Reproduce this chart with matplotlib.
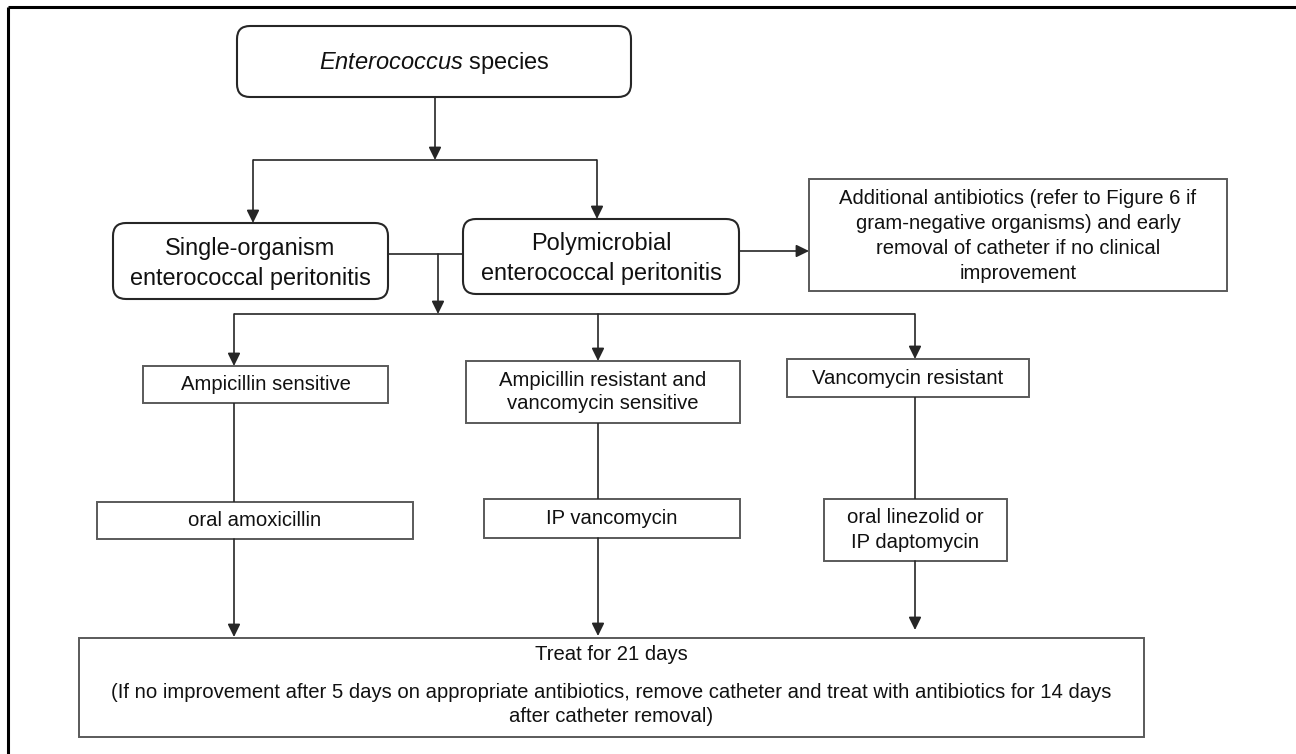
import matplotlib
matplotlib.use("Agg")
import matplotlib.pyplot as plt
from matplotlib.patches import FancyBboxPatch, Rectangle

plt.rcParams['font.family'] = ['Liberation Sans', 'DejaVu Sans']
plt.rcParams['mathtext.fontset'] = 'custom'
plt.rcParams['mathtext.rm'] = 'Liberation Sans'
plt.rcParams['mathtext.it'] = 'Liberation Sans:italic'

# labels of the flowchart nodes
top_label = r"$\mathit{Enterococcus}$ species"
type_labels = ["Single-organism\nenterococcal peritonitis",
               "Polymicrobial\nenterococcal peritonitis"]
extra_label = ("Additional antibiotics (refer to Figure 6 if\n"
               "gram-negative organisms) and early\n"
               "removal of catheter if no clinical\n"
               "improvement")
sensitivity_labels = ["Ampicillin sensitive",
                      "Ampicillin resistant and\nvancomycin sensitive",
                      "Vancomycin resistant"]
therapy_labels = ["oral amoxicillin", "IP vancomycin",
                  "oral linezolid or\nIP daptomycin"]
final_title = "Treat for 21 days"
final_note = ("(If no improvement after 5 days on appropriate antibiotics, remove catheter "
              "and treat with antibiotics for 14 days\nafter catheter removal)")

# layout in pixel coordinates (x0, x1, y0, y1), y grows downward
top_box = (237, 631, 26, 97)
type_boxes = [(113, 388, 223, 299), (463, 739, 219, 294)]
extra_box = (809, 1227, 179, 291)
sens_boxes = [(143, 388, 366, 403), (466, 740, 361, 423), (787, 1029, 359, 397)]
ther_boxes = [(97, 413, 502, 539), (484, 740, 499, 538), (824, 1007, 499, 561)]
final_box = (79, 1144, 638, 737)
branch_x = [234, 598, 915]

LINE = '#262626'
EDGE = '#5a5a5a'
TXT = '#111111'

fig = plt.figure(figsize=(12.96, 7.54), dpi=100)
ax = fig.add_axes([0, 0, 1, 1])
ax.set_xlim(0, 1296)
ax.set_ylim(754, 0)
ax.axis('off')


def rounded(b):
    x0, x1, y0, y1 = b
    ax.add_patch(FancyBboxPatch((x0, y0), x1 - x0, y1 - y0,
                                boxstyle="round,pad=0,rounding_size=13",
                                fc='white', ec='#262626', lw=1.5))


def rect(b):
    x0, x1, y0, y1 = b
    ax.add_patch(Rectangle((x0, y0), x1 - x0, y1 - y0, fc='white', ec=EDGE, lw=1.4))


def lines(label, cx, cy, step, size):
    parts = label.split('\n')
    n = len(parts)
    for i, p in enumerate(parts):
        y = cy + (i - (n - 1) / 2) * step
        ax.text(cx, y, p, ha='center', va='center', fontsize=size, color=TXT)


def seg(x0, y0, x1, y1):
    ax.plot([x0, x1], [y0, y1], color=LINE, lw=1.2, solid_capstyle='butt')


def arrow(x0, y0, x1, y1):
    ax.annotate('', xy=(x1, y1), xytext=(x0, y0),
                arrowprops=dict(arrowstyle='-|>,head_length=0.55,head_width=0.27',
                                mutation_scale=14, lw=1.2, color=LINE,
                                shrinkA=0, shrinkB=0))


# outer frame (only top and left edges are inside the picture)
ax.plot([8, 1296], [7, 7], color='black', lw=2.2, solid_capstyle='butt')
ax.plot([8, 8], [7, 754], color='black', lw=2.2, solid_capstyle='butt')

# top node
rounded(top_box)
ax.text((top_box[0] + top_box[1]) / 2, 63, top_label, ha='center', va='center',
        fontsize=17, color=TXT)

# split to the two peritonitis types
tx = 435
arrow(tx, top_box[3], tx, 160)
seg(253, 160, 597, 160)
arrow(253, 160, 253, type_boxes[0][2])
arrow(597, 160, 597, type_boxes[1][2])

for b, lab in zip(type_boxes, type_labels):
    rounded(b)
    lines(lab, (b[0] + b[1]) / 2, (b[2] + b[3]) / 2 + 2, 30, 16.9)

# polymicrobial -> additional antibiotics
arrow(type_boxes[1][1], 251, extra_box[0], 251)
rect(extra_box)
lines(extra_label, (extra_box[0] + extra_box[1]) / 2, 236, 25, 14.6)

# join and split to sensitivity groups
seg(type_boxes[0][1], 254, type_boxes[1][0], 254)
arrow(438, 254, 438, 314)
seg(branch_x[0], 314, branch_x[2], 314)

steps = [23, 23, 25]
for i, (sb, tb) in enumerate(zip(sens_boxes, ther_boxes)):
    bx = branch_x[i]
    arrow(bx, 314, bx, sb[2])
    rect(sb)
    lines(sensitivity_labels[i], (sb[0] + sb[1]) / 2, (sb[2] + sb[3]) / 2, steps[i], 14.6)
    seg(bx, sb[3], bx, tb[2])
    rect(tb)
    lines(therapy_labels[i], (tb[0] + tb[1]) / 2, (tb[2] + tb[3]) / 2, 25, 14.6)

# arrows into the final box
arrow(branch_x[0], ther_boxes[0][3], branch_x[0], final_box[2] - 1)
arrow(branch_x[1], ther_boxes[1][3], branch_x[1], final_box[2] - 2)
arrow(branch_x[2], ther_boxes[2][3], branch_x[2], 630)

rect(final_box)
fx = (final_box[0] + final_box[1]) / 2
ax.text(fx, 655, final_title, ha='center', va='center', fontsize=14.6, color=TXT)
lines(final_note, fx, 705, 24, 14.6)

fig.savefig('out.png', dpi=100, facecolor='white')
